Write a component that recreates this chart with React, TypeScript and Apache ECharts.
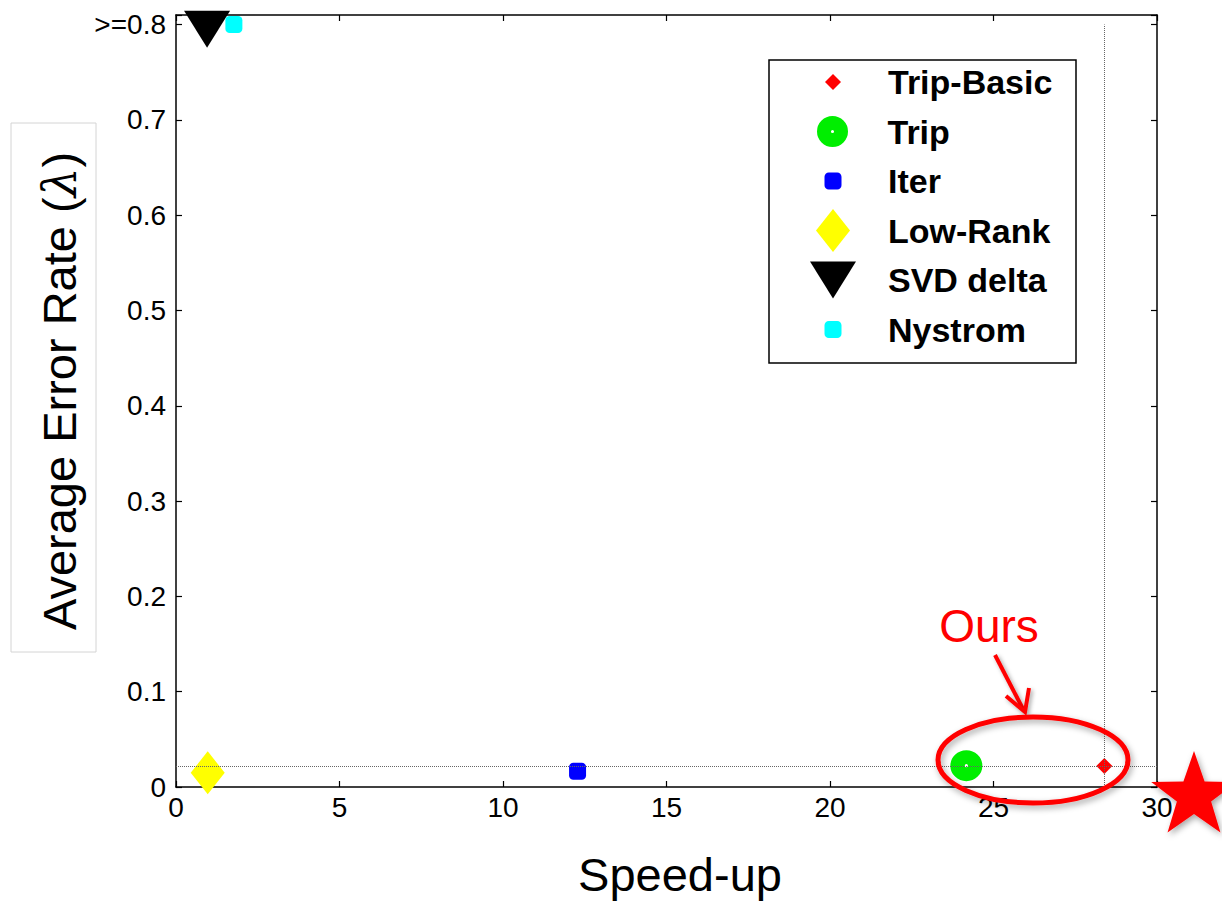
import React, { useEffect, useRef } from "react";
import * as echarts from "echarts";

// ---- data ----
const seriesNames = ["Trip-Basic", "Trip", "Iter", "Low-Rank", "SVD delta", "Nystrom"];
const speedUp = [28.39, 24.17, 12.28, 0.97, 0.95, 1.77];
const errorRate = [0.0221, 0.0224, 0.0164, 0.0149, 0.795, 0.8];
const xTicks = [0, 5, 10, 15, 20, 25, 30];
const yTickLabels = ["0", "0.1", "0.2", "0.3", "0.4", "0.5", "0.6", "0.7", ">=0.8"];
const xAxisTitle = "Speed-up";
const yAxisTitle = "Average Error Rate (";
const annotationText = "Ours";

// ---- styles ----
const FONT = "'Liberation Sans', Arial, Helvetica, sans-serif";
const markerStyles = [
  { symbol: "diamond", w: 16, h: 16, color: "#ff0000" },
  {
    symbol:
      "path://M16,0 A16,16 0 1,1 16,32 A16,16 0 1,1 16,0 Z M16,14.4 A1.6,1.6 0 1,0 16,17.6 A1.6,1.6 0 1,0 16,14.4 Z",
    w: 32,
    h: 31,
    color: "#00ee00",
  },
  { symbol: "roundRect", w: 17, h: 17, color: "#0000ff" },
  { symbol: "diamond", w: 34, h: 43, color: "#ffff00" },
  { symbol: "path://M0,0 L46,0 L23,37 Z", w: 46, h: 37, color: "#000000" },
  { symbol: "roundRect", w: 17, h: 17, color: "#00ffff" },
];

function starPoints(cx: number, cy: number, R: number, r: number) {
  const pts: number[][] = [];
  for (let k = 0; k < 10; k++) {
    const ang = -Math.PI / 2 + (k * Math.PI) / 5;
    const rad = k % 2 === 0 ? R : r;
    pts.push([cx + rad * Math.cos(ang), cy + rad * Math.sin(ang)]);
  }
  return pts;
}

export default function App() {
  const ref = useRef<HTMLDivElement>(null);

  useEffect(() => {
    if (!ref.current) return;
    const chart = echarts.init(ref.current, undefined, { renderer: "svg" });

    const yMax = 0.81;
    const yLabel = (v: number) => {
      const idx = Math.round(v * 10);
      if (Math.abs(v * 10 - idx) > 1e-6) return "";
      return yTickLabels[idx] ?? "";
    };

    const series: any[] = seriesNames.map((name, i) => ({
      name,
      type: "scatter",
      data: [[speedUp[i], errorRate[i]]],
      symbol: markerStyles[i].symbol,
      symbolSize: [markerStyles[i].w, markerStyles[i].h],
      itemStyle: { color: markerStyles[i].color, opacity: 1 },
      z: 3,
      silent: true,
    }));

    // dotted reference lines through the Trip-Basic point
    series[0].markLine = {
      silent: true,
      symbol: "none",
      label: { show: false },
      lineStyle: { type: [1, 1], color: "#666", width: 1 },
      data: [
        [{ coord: [0, errorRate[0]] }, { coord: [30, errorRate[0]] }],
        [{ coord: [speedUp[0], 0] }, { coord: [speedUp[0], 0.8] }],
      ],
    };

    const legendTop = 82;
    const legendStep = 49.5;
    const legends = seriesNames.map((name, i) => {
      const m = markerStyles[i];
      const cy = legendTop + legendStep * i;
      return {
        data: [name],
        left: 833 - m.w / 2,
        top: cy - Math.max(m.h, 34) / 2,
        itemWidth: m.w,
        itemHeight: m.h,
        padding: 0,
        selectedMode: false,
        orient: "vertical",
        textStyle: {
          fontSize: 34,
          fontWeight: "bold",
          color: "#000",
          fontFamily: FONT,
          padding: [0, 0, 0, 50 - m.w / 2],
        },
        z: 10,
      };
    });

    const axisCommon = {
      axisLine: { show: true, onZero: false, lineStyle: { color: "#000", width: 1.5 } },
      axisTick: { show: true, inside: true, length: 6, lineStyle: { color: "#000", width: 1.2 } },
      splitLine: { show: false },
    };

    const option: any = {
      animation: false,
      backgroundColor: "#ffffff",
      textStyle: { fontFamily: FONT },
      grid: { left: 176, right: 65, top: 15, bottom: 114, containLabel: false },
      xAxis: [
        {
          type: "value",
          min: xTicks[0],
          max: xTicks[xTicks.length - 1],
          interval: 5,
          ...axisCommon,
          axisLabel: { fontSize: 28, color: "#000", margin: 6, fontFamily: FONT },
        },
        {
          type: "value",
          position: "top",
          min: xTicks[0],
          max: xTicks[xTicks.length - 1],
          interval: 5,
          ...axisCommon,
          axisLabel: { show: false },
        },
      ],
      yAxis: [
        {
          type: "value",
          min: 0,
          max: yMax,
          interval: 0.1,
          ...axisCommon,
          axisLabel: { fontSize: 28, color: "#000", margin: 10, fontFamily: FONT, formatter: yLabel },
        },
        {
          type: "value",
          position: "right",
          min: 0,
          max: yMax,
          interval: 0.1,
          ...axisCommon,
          axisLabel: { show: false },
        },
      ],
      legend: legends,
      series,
      graphic: [
        // legend frame
        {
          type: "rect",
          shape: { x: 769, y: 60, width: 307, height: 303 },
          style: { fill: "#fff", stroke: "#000", lineWidth: 1.5 },
          z: 5,
          silent: true,
        },
        // y title box
        {
          type: "rect",
          shape: { x: 11, y: 123, width: 85, height: 529 },
          style: { fill: "none", stroke: "#d4d4d4", lineWidth: 1 },
          silent: true,
        },
        {
          type: "text",
          x: 59,
          y: 391,
          rotation: Math.PI / 2,
          style: {
            text: "{a|" + yAxisTitle + "}{l|λ}{a|)}",
            align: "center",
            verticalAlign: "middle",
            rich: {
              a: { fontSize: 47, fontFamily: FONT, fill: "#000" },
              l: { fontSize: 47, fontFamily: "'DejaVu Serif', serif", fontStyle: "italic", fill: "#000" },
            },
          },
          silent: true,
        },
        {
          type: "text",
          x: 680,
          y: 874,
          style: {
            text: xAxisTitle,
            fontSize: 47,
            fontFamily: FONT,
            fill: "#000",
            align: "center",
            verticalAlign: "middle",
          },
          silent: true,
        },
        // annotation
        {
          type: "text",
          x: 989,
          y: 626,
          style: {
            text: annotationText,
            fontSize: 46,
            fontFamily: FONT,
            fill: "#ff0000",
            align: "center",
            verticalAlign: "middle",
          },
          z: 20,
          silent: true,
        },
        {
          type: "line",
          shape: { x1: 995, y1: 655, x2: 1023, y2: 709 },
          style: {
            stroke: "#ff0000",
            lineWidth: 4,
            shadowBlur: 4,
            shadowColor: "rgba(0,0,0,0.35)",
            shadowOffsetX: 2,
            shadowOffsetY: 2,
          },
          z: 20,
          silent: true,
        },
        {
          type: "polyline",
          shape: { points: [[1006, 696], [1025, 712], [1029, 688]] },
          style: {
            stroke: "#ff0000",
            lineWidth: 4,
            fill: "none",
            shadowBlur: 4,
            shadowColor: "rgba(0,0,0,0.35)",
            shadowOffsetX: 2,
            shadowOffsetY: 2,
          },
          z: 20,
          silent: true,
        },
        {
          type: "ellipse",
          shape: { cx: 1033, cy: 760, rx: 95, ry: 43 },
          style: {
            fill: "none",
            stroke: "#ff0000",
            lineWidth: 5,
            shadowBlur: 6,
            shadowColor: "rgba(0,0,0,0.35)",
            shadowOffsetX: 2,
            shadowOffsetY: 3,
          },
          z: 20,
          silent: true,
        },
        {
          type: "polygon",
          shape: { points: starPoints(1194, 796, 45, 18) },
          style: {
            fill: "#ff0000",
            shadowBlur: 6,
            shadowColor: "rgba(0,0,0,0.35)",
            shadowOffsetX: 2,
            shadowOffsetY: 3,
          },
          z: 20,
          silent: true,
        },
      ],
    };

    chart.setOption(option);
    return () => chart.dispose();
  }, []);

  return (
    <div
      ref={ref}
      style={{ position: "absolute", left: 0, top: 0, width: 1222, height: 901, background: "#fff" }}
    />
  );
}
